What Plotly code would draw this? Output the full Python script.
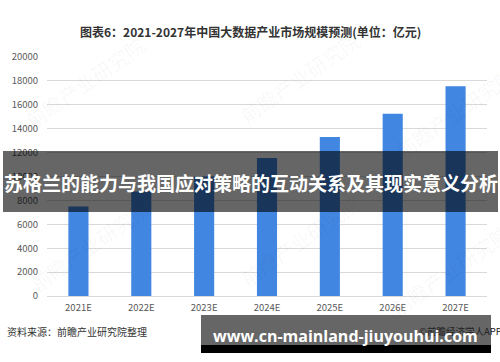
import plotly.graph_objects as go

# ---- data ----
years = ["2021E", "2022E", "2023E", "2024E", "2025E", "2026E", "2027E"]
market_size = [7500, 8750, 10000, 11550, 13300, 15250, 17550]
y_ticks = [0, 2000, 4000, 6000, 8000, 10000, 12000, 14000, 16000, 18000, 20000]

title_text = "图表6：2021-2027年中国大数据产业市场规模预测(单位：亿元)"
overlay_text = "苏格兰的能力与我国应对策略的互动关系及其现实意义分析"
url_text = "www.cn-mainland-jiuyouhui.com"
source_text = "资料来源：前瞻产业研究院整理"
credit_text = "©前瞻经济学人APP"
watermark_text = "前瞻产业研究院"

W, H = 500, 362
ML, MR, MT, MB = 47, 13, 57, 66
PW, PH = W - ML - MR, H - MT - MB

def px(x):
    return (x - ML) / PW

def py(y):
    return (H - MB - y) / PH

CJK = "Noto Sans CJK SC"

fig = go.Figure()
fig.add_trace(go.Bar(
    x=years, y=market_size,
    marker=dict(color="#4186e0", line=dict(width=0)),
    hoverinfo="x+y",
))

shapes = [
    # dark translucent band over chart
    dict(type="rect", xref="paper", yref="paper", layer="above",
         x0=px(3), x1=px(498), y0=py(212), y1=py(151),
         fillcolor="rgba(0,0,0,0.6)", line=dict(width=0)),
    # bottom url band
    dict(type="rect", xref="paper", yref="paper", layer="above",
         x0=px(201), x1=px(491), y0=py(345), y1=py(315),
         fillcolor="rgba(0,0,0,0.6)", line=dict(width=0)),
    dict(type="rect", xref="paper", yref="paper", layer="above",
         x0=px(201), x1=px(491), y0=py(353), y1=py(345),
         fillcolor="#000000", line=dict(width=0)),
]

def ann(x, y, text, font, xanchor="center", angle=0):
    return dict(x=px(x), y=py(y), xref="paper", yref="paper", text=text,
                showarrow=False, xanchor=xanchor, yanchor="middle",
                textangle=angle, font=font)

annotations = []
# faint watermarks
for (wx, wy) in [(85, 82), (300, 78), (455, 112), (90, 245), (300, 240), (450, 270)]:
    annotations.append(ann(wx, wy, watermark_text,
                           dict(family=CJK, size=20, color="rgba(0,0,0,0.04)"), angle=-35))

annotations += [
    ann(250, 31, "<b>" + title_text + "</b>", dict(family=CJK, size=12, color="#333333")),
    ann(5, 331, source_text, dict(family=CJK, size=10, color="#333333"), xanchor="left"),
    ann(417, 331, credit_text, dict(family=CJK, size=9.5, color="#222222"), xanchor="left"),
    ann(250.5, 182, "<b>" + overlay_text + "</b>", dict(family=CJK, size=19, color="#ffffff")),
    ann(345, 336, "<b>" + url_text + "</b>", dict(family="Open Sans", size=16, color="#ffffff")),
]

fig.update_layout(
    width=W, height=H,
    margin=dict(l=ML, r=MR, t=MT, b=MB, pad=0),
    paper_bgcolor="white", plot_bgcolor="white",
    showlegend=False,
    bargap=0.68,
    shapes=shapes,
    annotations=annotations,
    xaxis=dict(showgrid=False, showline=False, ticks="", ticklabelstandoff=4,
               tickfont=dict(family=CJK, size=9.5, color="#595959")),
    yaxis=dict(range=[0, 20000], tickvals=y_ticks, ticktext=[str(v) for v in y_ticks],
               showgrid=True, gridcolor="#d9d9d9",
               gridwidth=1, zeroline=True, zerolinecolor="#d9d9d9", zerolinewidth=1,
               showline=False, ticks="", ticklabelstandoff=8,
               tickfont=dict(family=CJK, size=9.5, color="#595959")),
)

fig.write_html("out.html")
